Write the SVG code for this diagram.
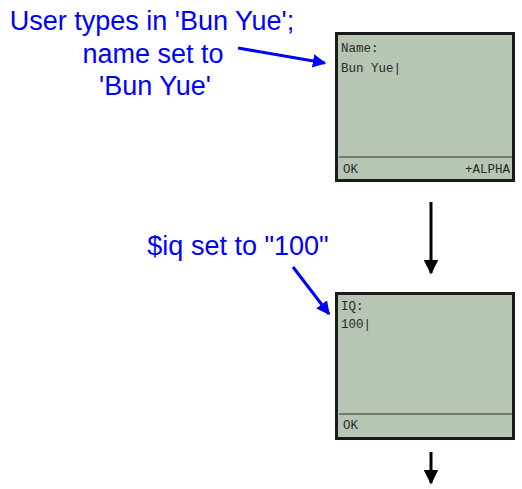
<svg xmlns="http://www.w3.org/2000/svg" width="522" height="489" viewBox="0 0 522 489">
<defs>
<style>
.lbl{font-family:"Liberation Sans",Arial,sans-serif;font-size:27px;fill:#0000ff;text-anchor:middle}
.scr{font-family:"Liberation Mono","Courier New",monospace;font-size:12.5px;fill:#2a2a2a}
.frame{fill:#b7c5b3;stroke:#1a1a1a;stroke-width:3}
.div{stroke:#333;stroke-width:1.2}
.blue{stroke:#0000ff;stroke-width:3;fill:none}
.blk{stroke:#000;stroke-width:3;fill:none}
</style>
<marker id="bh" viewBox="0 0 10 10" refX="9" refY="5" markerWidth="4.5" markerHeight="4.5" orient="auto" markerUnits="strokeWidth"><path d="M0,0 L10,5 L0,10 z" fill="#0000ff"/></marker>
<marker id="kh" viewBox="0 0 10 10" refX="9" refY="5" markerWidth="5" markerHeight="5" orient="auto" markerUnits="strokeWidth"><path d="M0,0 L10,5 L0,10 z" fill="#000"/></marker>
</defs>
<g id="label1">
<text class="lbl" x="152" y="30">User types in 'Bun Yue';</text>
<text class="lbl" x="153" y="63">name set to</text>
<text class="lbl" x="155" y="95">'Bun Yue'</text>
</g>
<g id="label2">
<text class="lbl" x="238" y="255">$iq set to "100"</text>
</g>
<g id="screen1">
<rect class="frame" x="336.5" y="33.5" width="177" height="147"/>
<line class="div" x1="339" y1="157" x2="512" y2="157"/>
<text class="scr" x="341" y="52">Name:</text>
<text class="scr" x="341" y="72">Bun Yue|</text>
<text class="scr" x="343" y="173">OK</text>
<text class="scr" x="510" y="173" text-anchor="end">+ALPHA</text>
</g>
<g id="screen2">
<rect class="frame" x="336.5" y="293.5" width="177" height="145"/>
<line class="div" x1="339" y1="414" x2="512" y2="414"/>
<text class="scr" x="341" y="310">IQ:</text>
<text class="scr" x="341" y="328">100|</text>
<text class="scr" x="343" y="429">OK</text>
</g>
<g id="connectors">
<line class="blue" x1="238" y1="48" x2="325" y2="63" marker-end="url(#bh)"/>
<line class="blue" x1="293" y1="267" x2="329" y2="314" marker-end="url(#bh)"/>
<line class="blk" x1="431" y1="202" x2="431" y2="273" marker-end="url(#kh)"/>
<line class="blk" x1="431" y1="452" x2="431" y2="483" marker-end="url(#kh)"/>
</g>
</svg>
